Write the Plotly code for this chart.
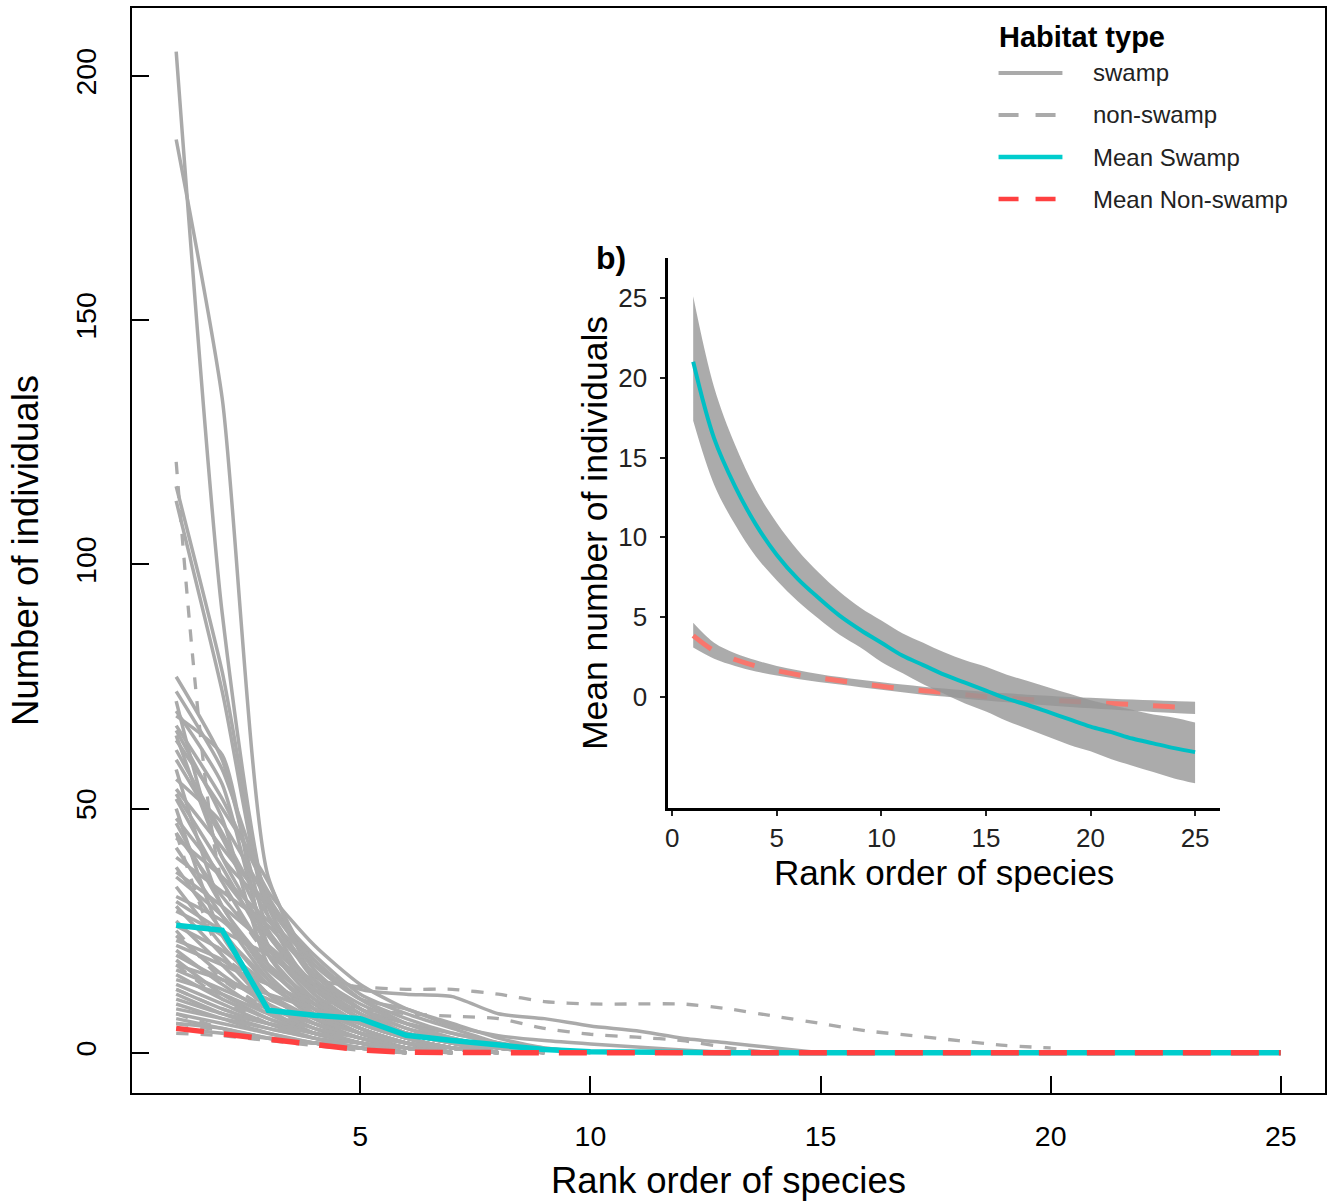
import plotly.graph_objects as go

# ---------------- data: main panel (rank-abundance curves) ----------------
ranks = list(range(1, 26))

swamp_lines = [
    [205, 90, 30, 16, 9, 6, 4, 2, 1, 0],
    [187, 134, 36, 18, 13, 12, 11.5, 8, 7, 5.5, 4.5, 3, 2, 1, 0],
    [116, 78, 30, 15, 9, 5, 3, 1, 0],
    [113, 74, 28, 13, 7, 4, 2, 0],
    [77, 60, 25, 12, 6, 3, 1, 0],
    [74, 58, 32, 19, 11, 6, 3, 1, 0],
    [72, 40, 30, 20, 12, 8, 5, 2, 0],
    [70, 55, 22, 11, 5, 2, 0],
    [69, 61, 20, 10, 5, 2, 1, 0],
    [67, 52, 33, 22, 14, 9, 6, 3, 1, 0],
    [66, 48, 18, 9, 4, 2, 0],
    [65, 40, 24, 13, 7, 3, 1, 0],
    [64, 50, 35, 15, 8, 4, 2, 0],
    [62, 45, 28, 16, 10, 6, 3, 1, 0],
    [60, 44, 25, 14, 7, 3, 1, 0],
    [58, 30, 18, 9, 4, 2, 0],
    [56, 47, 31, 17, 9, 4, 2, 0],
    [54, 42, 30, 18, 11, 9, 5.5, 3.5, 2.5, 1.8, 1.2, 0.6, 0],
    [53, 38, 22, 12, 6, 3, 1, 0],
    [52, 35, 20, 10, 5, 2, 0],
    [50, 24, 12, 6, 3, 1, 0],
    [48, 36, 24, 14, 8, 4, 2, 1, 0],
    [47, 30, 16, 8, 4, 1, 0],
    [45, 32, 21, 13, 7, 3, 1, 0],
    [44, 36, 27, 19, 11, 7, 4, 2, 0],
    [42, 28, 15, 7, 3, 1, 0],
    [40, 33, 26, 16, 9, 5, 2, 0],
    [38, 25, 14, 8, 4, 2, 0],
    [37, 30, 22, 14, 8, 4, 2, 1, 0],
    [36, 28, 17, 10, 5, 2, 1, 0],
    [34, 22, 12, 6, 3, 1, 0],
    [32, 27, 18, 11, 6, 3, 1, 0],
    [31, 25, 20, 13, 8, 4, 2, 0],
    [30, 20, 10, 5, 2, 0],
    [29, 24, 15, 9, 5, 2, 0],
    [27, 18, 9, 4, 2, 0],
    [26, 21, 14, 8, 4, 1, 0],
    [24, 16, 10, 6, 3, 1, 0],
    [23, 19, 12, 7, 4, 2, 0],
    [22, 18, 14, 10, 6, 4, 2, 1, 0],
    [21, 14, 8, 4, 2, 0],
    [20, 15, 11, 7, 4, 2, 1, 0],
    [19, 12, 7, 4, 2, 0],
    [18, 15, 12, 9, 6, 3, 1, 0],
    [17, 13, 9, 6, 3, 1, 0],
    [16, 11, 7, 4, 2, 0],
    [15, 12, 8, 5, 3, 1, 0],
    [14, 10, 6, 3, 1, 0],
    [13, 9, 6, 4, 2, 1, 0],
    [12, 8, 5, 3, 1, 0],
    [11, 8, 6, 4, 2, 0],
    [10, 7, 4, 2, 1, 0],
    [9, 7, 5, 3, 2, 1, 0],
    [8, 6, 4, 2, 1, 0],
    [7, 5, 3, 2, 1, 0],
    [6, 5, 3, 2, 1, 0],
    [5, 4, 3, 2, 1, 0],
]

nonswamp_lines = [
    [121, 35, 20, 15, 13.5, 13, 13, 12, 10.5, 10, 10, 10, 9, 7.5, 6, 4.5, 3.5, 2.5, 1.5, 1],
    [45, 20, 14, 11, 9, 8, 7.5, 7, 5, 3.8, 3.2, 2.5, 1, 0],
    [25, 15, 9, 5, 2, 0],
    [18, 11, 6, 3, 1, 0],
    [13, 9, 6, 3, 1, 0],
    [8, 5, 3, 2, 1, 0],
    [6, 4.5, 3, 2, 1, 0],
    [4, 3.5, 2.5, 1.5, 0.5, 0],
]

mean_swamp = [26.1, 25.1, 8.7, 7.7, 7.0, 3.6, 2.5, 1.5, 0.7, 0.2, 0.05,
              0, 0, 0, 0, 0, 0, 0, 0, 0, 0, 0, 0, 0, 0]
mean_nonswamp = [5.0, 3.9, 2.7, 1.6, 0.6, 0.1, 0, 0, 0, 0, 0, 0, 0,
                 0, 0, 0, 0, 0, 0, 0, 0, 0, 0, 0, 0]

# ---------------- data: inset b) (fitted means with confidence bands) ----------------
fit_swamp = [21.0, 16.2, 13.2, 10.8, 8.9, 7.4, 6.2, 5.1, 4.2, 3.4, 2.6, 2.0, 1.4,
             0.9, 0.4, -0.1, -0.5, -0.95, -1.4, -1.85, -2.2, -2.6, -2.9, -3.2, -3.45]
fit_swamp_upper = [25.1, 19.4, 15.8, 13.0, 10.9, 9.2, 7.8, 6.6, 5.6, 4.8, 4.0, 3.4, 2.8,
                   2.3, 1.9, 1.4, 1.0, 0.6, 0.2, -0.2, -0.5, -0.8, -1.1, -1.3, -1.6]
fit_swamp_lower = [17.3, 13.3, 10.8, 8.8, 7.3, 6.0, 4.9, 3.9, 3.1, 2.2, 1.5, 0.8, 0.2,
                   -0.4, -0.9, -1.5, -2.0, -2.5, -3.0, -3.4, -3.9, -4.3, -4.7, -5.1, -5.4]
fit_nonswamp = [3.85, 2.9, 2.35, 1.95, 1.65, 1.4, 1.2, 1.02, 0.85, 0.67, 0.52, 0.4, 0.28,
                0.15, 0.02, -0.07, -0.15, -0.21, -0.27, -0.33, -0.4, -0.47, -0.54, -0.62, -0.7]
fit_nonswamp_upper = [4.65, 3.4, 2.75, 2.3, 1.95, 1.68, 1.45, 1.25, 1.08, 0.92, 0.78, 0.65, 0.53,
                      0.42, 0.32, 0.23, 0.15, 0.08, 0.0, -0.05, -0.1, -0.15, -0.2, -0.25, -0.3]
fit_nonswamp_lower = [3.1, 2.4, 1.95, 1.6, 1.35, 1.13, 0.95, 0.78, 0.62, 0.45, 0.3, 0.15, 0.03,
                      -0.1, -0.22, -0.33, -0.44, -0.53, -0.62, -0.7, -0.78, -0.86, -0.93, -1.0, -1.07]

main_x_ticks = [5, 10, 15, 20, 25]
main_y_ticks = [0, 50, 100, 150, 200]
inset_x_ticks = [0, 5, 10, 15, 20, 25]
inset_y_ticks = [0, 5, 10, 15, 20, 25]

legend_title = "Habitat type"
legend_labels = ["swamp", "non-swamp", "Mean Swamp", "Mean Non-swamp"]

# ---------------- styling ----------------
FONT = "Liberation Sans, Arial, sans-serif"
GRAY = "#AAAAAA"
CYAN = "#00CDCD"
RED = "#FF4040"
GG_CYAN = "#00BFC4"
GG_RED = "#F8766D"
RIBBON = "rgba(150,150,150,0.8)"

W, H = 1328, 1201
ML, MR, MT, MB = 132, 1, 8, 108
PW, PH = W - ML - MR, H - MT - MB


def px_x(p):
    return (p - ML) / PW


def px_y(p):
    return (H - MB - p) / PH


fig = go.Figure()

# individual plots
for vals in swamp_lines:
    fig.add_trace(go.Scatter(x=ranks[:len(vals)], y=vals, mode="lines",
                             line=dict(color=GRAY, width=3.5, shape="spline", smoothing=0.6),
                             hoverinfo="skip", showlegend=False))
for vals in nonswamp_lines:
    fig.add_trace(go.Scatter(x=ranks[:len(vals)], y=vals, mode="lines",
                             line=dict(color=GRAY, width=3.3, dash="12px,12px",
                                       shape="spline", smoothing=0.6),
                             hoverinfo="skip", showlegend=False))

fig.add_trace(go.Scatter(x=ranks, y=mean_swamp, mode="lines", name="Mean Swamp",
                         line=dict(color=CYAN, width=5.5), showlegend=False))
fig.add_trace(go.Scatter(x=ranks, y=mean_nonswamp, mode="lines", name="Mean Non-swamp",
                         line=dict(color=RED, width=5.5, dash="28px,20px"), showlegend=False))


def add_band(lower, upper):
    fig.add_trace(go.Scatter(x=ranks, y=lower, mode="lines", xaxis="x2", yaxis="y2",
                             line=dict(width=0, shape="spline", color="rgba(0,0,0,0)"),
                             hoverinfo="skip", showlegend=False))
    fig.add_trace(go.Scatter(x=ranks, y=upper, mode="lines", xaxis="x2", yaxis="y2",
                             fill="tonexty", fillcolor=RIBBON,
                             line=dict(width=0, shape="spline", color="rgba(0,0,0,0)"),
                             hoverinfo="skip", showlegend=False))


# inset
add_band(fit_nonswamp_lower, fit_nonswamp_upper)
fig.add_trace(go.Scatter(x=ranks, y=fit_nonswamp, mode="lines", xaxis="x2", yaxis="y2",
                         line=dict(color=GG_RED, width=5, dash="22px,25px", shape="spline"),
                         showlegend=False))
add_band(fit_swamp_lower, fit_swamp_upper)
fig.add_trace(go.Scatter(x=ranks, y=fit_swamp, mode="lines", xaxis="x2", yaxis="y2",
                         line=dict(color=GG_CYAN, width=4, shape="spline"),
                         showlegend=False))

axis_common = dict(showgrid=False, zeroline=False, color="black")

fig.update_layout(
    width=W, height=H,
    margin=dict(l=ML, r=MR, t=MT, b=MB),
    paper_bgcolor="white", plot_bgcolor="white",
    font=dict(family=FONT, color="black"),
    showlegend=False,
    xaxis=dict(**axis_common, range=[0.04, 25.96], tickvals=main_x_ticks,
               ticks="inside", ticklen=17, tickwidth=1.5, tickcolor="black",
               showline=True, linecolor="black", linewidth=1.5, mirror=True,
               tickfont=dict(size=28.5, family=FONT), ticklabelstandoff=17,
               title=dict(text="Rank order of species", font=dict(size=36.5, family=FONT),
                          standoff=18)),
    yaxis=dict(**axis_common, range=[-8.23, 213.93], tickvals=main_y_ticks,
               ticks="inside", ticklen=17, tickwidth=1.5, tickcolor="black",
               showline=True, linecolor="black", linewidth=1.5, mirror=True,
               tickangle=-90,
               tickfont=dict(size=28.5, family=FONT), ticklabelstandoff=23,
               title=dict(text="Number of individuals", font=dict(size=36.5, family=FONT),
                          standoff=20)),
    xaxis2=dict(**axis_common, domain=[px_x(669), px_x(1222)], anchor="y2",
                range=[-0.2, 26.2], tickvals=inset_x_ticks,
                ticks="outside", ticklen=5, tickwidth=1.5, tickcolor="#222",
                showline=True, linecolor="black", linewidth=2.5, mirror=False,
                tickfont=dict(size=26, family=FONT, color="#222"), ticklabelstandoff=0,
                title=dict(text="Rank order of species", font=dict(size=35, family=FONT),
                           standoff=0)),
    yaxis2=dict(**axis_common, domain=[px_y(808), px_y(258)], anchor="x2",
                range=[-6.95, 27.5], tickvals=inset_y_ticks,
                ticks="outside", ticklen=5, tickwidth=1.5, tickcolor="#222",
                showline=True, linecolor="black", linewidth=2.5, mirror=False,
                tickfont=dict(size=26, family=FONT, color="#222"), ticklabelstandoff=8,
                title=dict(text="Mean number of individuals", font=dict(size=35.5, family=FONT),
                           standoff=0)),
)

# panel tag
fig.add_annotation(x=px_x(612), y=px_y(258), xref="paper", yref="paper",
                   text="<b>b)</b>", showarrow=False, font=dict(size=32, family=FONT),
                   xanchor="center", yanchor="middle")

# legend (drawn manually to match the long key lines)
fig.add_annotation(x=px_x(998), y=px_y(37), xref="paper", yref="paper",
                   text="<b>" + legend_title + "</b>", showarrow=False,
                   font=dict(size=29, family=FONT), xanchor="left", yanchor="middle")
key_styles = [
    dict(color=GRAY, width=4, dash="solid"),
    dict(color=GRAY, width=4, dash="20px,17px"),
    dict(color=CYAN, width=4.5, dash="solid"),
    dict(color=RED, width=4.5, dash="20px,17px"),
]
key_rows = [73, 115, 157, 199]
for lab, sty, yy in zip(legend_labels, key_styles, key_rows):
    fig.add_shape(type="line", xref="paper", yref="paper",
                  x0=px_x(1000), x1=px_x(1064), y0=px_y(yy), y1=px_y(yy), line=sty)
    fig.add_annotation(x=px_x(1093), y=px_y(yy), xref="paper", yref="paper",
                       text=lab, showarrow=False, font=dict(size=24, family=FONT, color="#222"),
                       xanchor="left", yanchor="middle")

fig.write_html("out.html")
